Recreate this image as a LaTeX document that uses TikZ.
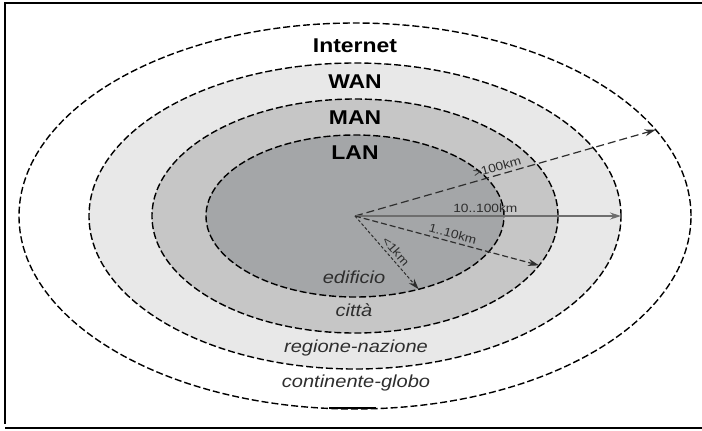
\documentclass[tikz,border=0pt]{standalone}
\usepackage{fontspec}
\setmainfont{Liberation Sans}[FakeStretch=1.15]
\usetikzlibrary{arrows.meta, shapes.geometric}
\definecolor{langray}{HTML}{A4A6A8}
\definecolor{mangray}{HTML}{C6C6C6}
\definecolor{wangray}{HTML}{E8E8E8}
\definecolor{inkgray}{HTML}{2E2E2E}
\definecolor{rulegray}{HTML}{6E6E6E}

\begin{document}
\begin{tikzpicture}[x=1bp, y=-1bp, >={Stealth[length=11pt, width=7pt]},
  zone/.style={ellipse, draw=black, dash pattern=on 7pt off 3pt, line width=1.4pt, inner sep=0pt, outer sep=0pt},
  netname/.style={font=\fontsize{20}{24}\selectfont\bfseries, text=black},
  areaname/.style={font=\fontsize{17.5}{20}\selectfont\itshape, text=inkgray},
  rangelabel/.style={font=\fontsize{12}{14}\selectfont, text=inkgray, sloped, above, inner sep=3pt}]

\useasboundingbox (0,0) rectangle (702,430);

% Frame
\draw[line width=1.2pt] (702,3) -- (5,3) -- (5,424);
\draw[line width=2.5pt] (5,428) -- (702,428);

% Nested zones
\coordinate (c) at (355,216);
\node[zone, fill=white, minimum width=672bp, minimum height=386bp] (internet) at (c) {};
\node[zone, fill=wangray, minimum width=532bp, minimum height=306bp] (wan) at (c) {};
\node[zone, fill=mangray, minimum width=406bp, minimum height=234bp] (man) at (c) {};
\node[zone, fill=langray, minimum width=298bp, minimum height=162bp] (lan) at (c) {};
\draw[line width=2.5pt] (329,408) -- (376,408);

% Network names
\node[netname] (tinternet) at (355,46) {Internet};
\node[netname] (twan) at (355,82) {WAN};
\node[netname] (tman) at (355,118) {MAN};
\node[netname] (tlan) at (355,153) {LAN};

% Area names
\node[areaname] (tedificio) at (354,277) {edificio};
\node[areaname] (tcitta) at (354,310) {città};
\node[areaname] (tregione) at (356,348) {regione-nazione};
\node[areaname] (tglobo) at (356,383) {continente-globo};

% Ranges
\draw[->, inkgray, line width=1.2pt, dash pattern=on 8pt off 4pt] (c) -- node[rangelabel, pos=0.48] {>100km} (internet.16.5);
\draw[->, rulegray, line width=1.5pt] (c) -- node[rangelabel, pos=0.49] {10..100km} (wan.0);
\draw[->, inkgray, line width=1.2pt, dash pattern=on 6pt off 3pt] (c) -- node[rangelabel, pos=0.52] {1..10km} (man.-15.8);
\draw[->, inkgray, line width=1pt, dash pattern=on 3pt off 2pt] (c) -- node[rangelabel, pos=0.55] {<1km} (lan.-49.7);

\end{tikzpicture}
\end{document}
